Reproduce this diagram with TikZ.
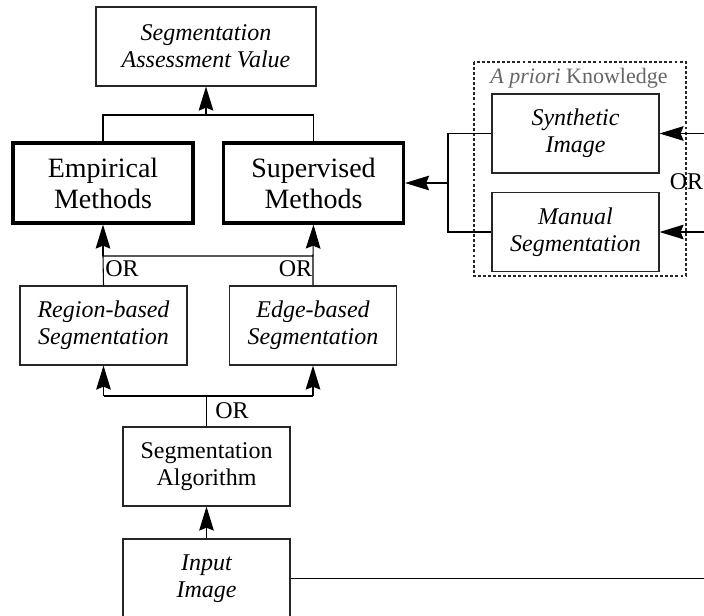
\documentclass[tikz,border=0pt]{standalone}
\usepackage{fontspec}
\setmainfont{Liberation Serif}
\usetikzlibrary{arrows.meta}
\tikzset{
  thinbox/.style={draw=black!85, line width=0.9pt, inner sep=0pt, align=center,
    minimum width=125.25pt, minimum height=59.25pt, font=\fontsize{18pt}{20.25pt}\selectfont},
  thickbox/.style={draw=black, line width=2.4pt, inner sep=0pt, align=center,
    minimum width=135pt, minimum height=60pt, font=\fontsize{21pt}{23.25pt}\selectfont},
  conn/.style={draw=black, line width=0.8pt},
  arr/.style={conn, -{Stealth[length=18pt, width=11pt, inset=2.2pt]}},
  orlabel/.style={inner sep=0pt, font=\fontsize{18pt}{20pt}\selectfont},
}
\begin{document}
\begin{tikzpicture}[x=0.75pt, y=-0.75pt]
\useasboundingbox (0,0) rectangle (704,615);
\clip (0,0) rectangle (704,615);

% boxes
\node[thinbox, minimum width=165pt] (av) at (206,46.5) {\itshape Segmentation\\\itshape Assessment Value};
\node[thickbox] (emp) at (103,183) {Empirical\\Methods};
\node[thickbox] (sup) at (313.5,183) {Supervised\\Methods};
\node[thinbox] (reg) at (103.5,325.5) {\itshape Region-based\\\itshape Segmentation};
\node[thinbox] (edge) at (313,325.5) {\itshape Edge-based\\\itshape Segmentation};
\node[thinbox] (alg) at (206.5,466.5) {Segmentation\\Algorithm};
\node[thinbox] (inp) at (206.5,578.5) {\itshape Input\\\itshape Image};
\node[thinbox] (syn) at (575.5,133.5) {\itshape Synthetic\\\itshape Image};
\node[thinbox] (man) at (575.5,232) {\itshape Manual\\\itshape Segmentation};

% a priori frame
\draw[black!85, line width=0.8pt, dash pattern=on 2.2pt off 1.6pt] (474,62) rectangle (686,276);
\node[inner sep=0pt, text=black!60, font=\fontsize{16.5pt}{18pt}\selectfont] (apk) at (579,78) {\textit{A priori} Knowledge};

% top merge
\coordinate (j1) at (206,115);
\draw[conn] (emp.north) |- (j1) -| (sup.north);
\draw[arr] (j1) -- (av.south);

% middle OR
\coordinate (j2l) at (103,256);
\coordinate (j2r) at (313,256);
\draw[conn] (reg.north) -- (j2l) -- (j2r) -- (edge.north);
\draw[arr] (j2l) -- (emp.south);
\draw[arr] (j2r) -- (sup.south);
\node[orlabel, anchor=north west] (or1) at (105,260) {OR};
\node[orlabel, anchor=north east] (or2) at (312.5,260) {OR};

% bottom OR
\coordinate (j3) at (206.5,396);
\coordinate (j3l) at (103.5,396);
\coordinate (j3r) at (313,396);
\draw[conn] (alg.north) -- (j3);
\draw[conn] (j3l) -- (j3r);
\draw[arr] (j3l) -- (reg.south);
\draw[arr] (j3r) -- (edge.south);
\node[orlabel, anchor=north west] (or3) at (215,402) {OR};

\draw[arr] (inp.north) -- (alg.south);

% input image to the right
\coordinate (ir) at (720,578.5);
\draw[conn] (inp.east) -- (ir);

% a priori knowledge to supervised
\coordinate (kt) at (448,133.5);
\coordinate (kb) at (448,232);
\coordinate (km) at (448,183);
\draw[conn] (syn.west) -- (kt) -- (kb) -- (man.west);
\draw[arr] (km) -- (sup.east);

% from the right edge
\coordinate (rt) at (720,133.5);
\coordinate (rb) at (720,232);
\draw[arr] (rt) -- (syn.east);
\draw[arr] (rb) -- (man.east);
\node[orlabel, anchor=east] (or4) at (703.5,182) {OR};
\end{tikzpicture}
\end{document}
